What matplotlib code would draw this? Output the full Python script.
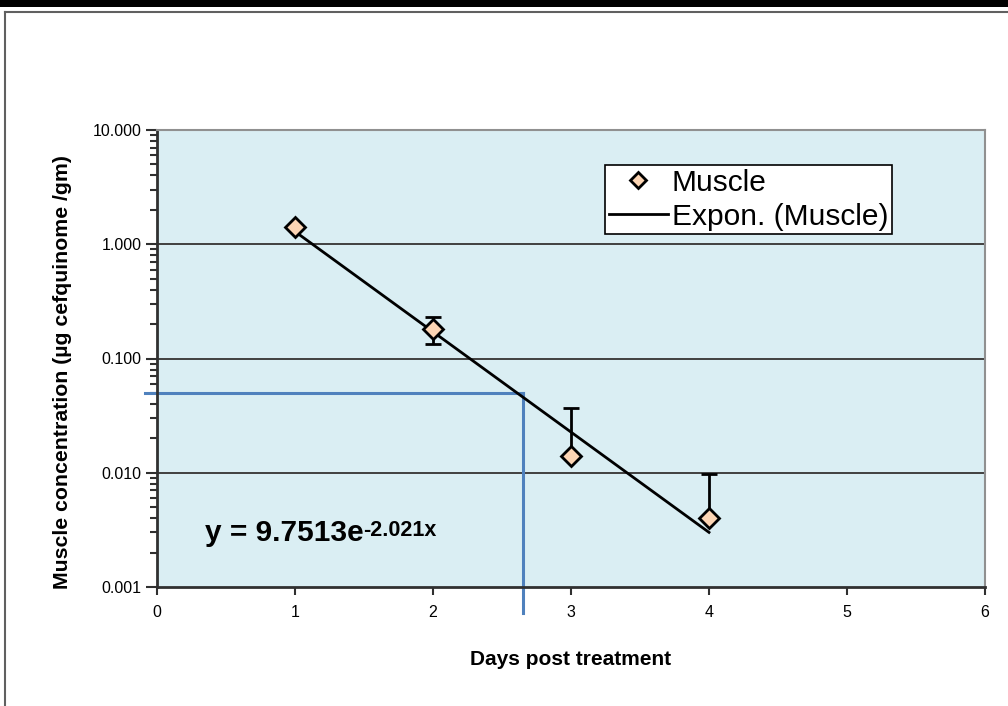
import matplotlib
matplotlib.use("Agg")
import matplotlib.pyplot as plt
from matplotlib.lines import Line2D
from matplotlib.ticker import LogLocator, FixedLocator, FormatStrFormatter, NullFormatter
import numpy as np

plt.rcParams['font.family'] = ['Liberation Sans', 'DejaVu Sans']

# ---- data ----
days = [1, 2, 3, 4]
conc = [1.41, 0.183, 0.0141, 0.0040]
err_lower = [0.0, 0.048, 0.0, 0.0]
err_upper = [0.0, 0.050, 0.023, 0.0058]
fit_a = 9.7513
fit_b = -2.021
fit_x = [1, 4]
ref_conc = 0.05
ref_day = 2.65
ref_low = 0.00059
x_ticks = [0, 1, 2, 3, 4, 5, 6]
y_ticks = [0.001, 0.01, 0.1, 1, 10]

W, H = 1008, 706
fig = plt.figure(figsize=(W / 100, H / 100), dpi=100)

def fx(px):
    return px / W

def fy(py):
    return 1 - py / H

# outer decorations
fig.add_artist(plt.Rectangle((0, fy(7)), 1, 7 / H, transform=fig.transFigure,
                             color='black', lw=0))
fig.add_artist(Line2D([fx(4.5), fx(1008)], [fy(11.5), fy(11.5)], transform=fig.transFigure,
                      color='#606060', lw=1.5))
fig.add_artist(Line2D([fx(4.5), fx(4.5)], [fy(11.5), 0], transform=fig.transFigure,
                      color='#606060', lw=1.5))

ax = fig.add_axes([fx(157), fy(587), fx(985 - 157), (587 - 130) / H])
ax.set_facecolor('#DAEEF3')
ax.set_yscale('log')
ax.set_xlim(0, 6)
ax.set_ylim(0.001, 10)

# gridlines
for g in [0.01, 0.1, 1]:
    ax.axhline(g, color='#404040', lw=1.4, zorder=1)

# trend line
tx = np.array(fit_x, dtype=float)
ty = fit_a * np.exp(fit_b * tx)
ax.plot(tx, ty, color='black', lw=2, zorder=3, label='Expon. (Muscle)')

# error bars
ax.errorbar(days, conc, yerr=[err_lower, err_upper], fmt='none', ecolor='black',
            elinewidth=2, capsize=6, capthick=2, zorder=4)
# markers
ax.plot(days, conc, linestyle='none', marker='D', ms=10, mfc='#FCD5B4', mec='black',
        mew=2, zorder=5, label='Muscle')

# blue reference lines
ax.plot([-0.09, ref_day], [ref_conc, ref_conc], color='#4F81BD', lw=2.2, clip_on=False, zorder=2)
ax.plot([ref_day, ref_day], [ref_conc, ref_low], color='#4F81BD', lw=2.2, clip_on=False, zorder=2)

# ticks
ax.xaxis.set_major_locator(FixedLocator(x_ticks))
ax.yaxis.set_major_locator(FixedLocator(y_ticks))
ax.yaxis.set_major_formatter(FormatStrFormatter('%.3f'))
ax.yaxis.set_minor_locator(LogLocator(base=10, subs=np.arange(2, 10)))
ax.yaxis.set_minor_formatter(NullFormatter())
ax.tick_params(axis='y', which='major', direction='out', length=8, width=1.5, pad=3,
               labelsize=11.5, colors='#303030', labelcolor='black')
ax.tick_params(axis='y', which='minor', direction='out', length=5, width=1.5, colors='#303030')
ax.tick_params(axis='x', which='major', direction='out', length=6, width=1.5, pad=7,
               labelsize=11.5, colors='#303030', labelcolor='black')

for s in ['left', 'bottom']:
    ax.spines[s].set_color('#303030')
    ax.spines[s].set_linewidth(2)
for s in ['top', 'right']:
    ax.spines[s].set_color('#909090')
    ax.spines[s].set_linewidth(1.5)

ax.set_xlabel('Days post treatment', fontsize=15, fontweight='bold')
ax.set_ylabel('Muscle concentration (µg cefquinome /gm)', fontsize=15.3, fontweight='bold')
ax.xaxis.set_label_coords(0.5, -(650 - 587) / 457)
ax.yaxis.set_label_coords(-(157 - 72) / 828, 0.5 - 14 / 457)

# equation
eq = ax.text((205 - 157) / 828, (587 - 533) / 457, 'y = 9.7513e', transform=ax.transAxes,
             fontsize=21.5, fontweight='bold', va='center', ha='left')
ax.annotate('-2.021x', xy=(1.0, 0.97), xycoords=eq, fontsize=15.5, fontweight='bold',
            va='top', ha='left')

# legend
handles, labels = ax.get_legend_handles_labels()
order = [labels.index('Muscle'), labels.index('Expon. (Muscle)')]
leg = ax.legend([handles[i] for i in order], [labels[i] for i in order],
                loc='upper left', bbox_to_anchor=((605 - 157) / 828, 1 - (165 - 130) / 457),
                fontsize=21.5, frameon=True, fancybox=False, framealpha=1,
                edgecolor='black', borderpad=0.12, labelspacing=0.2,
                handlelength=2.0, handletextpad=0.12, borderaxespad=0)
leg.get_frame().set_linewidth(1.2)
for h in leg.legend_handles:
    if isinstance(h, Line2D) and h.get_marker() == 'D':
        h.set_markersize(8)

fig.savefig('out.png', dpi=100)
